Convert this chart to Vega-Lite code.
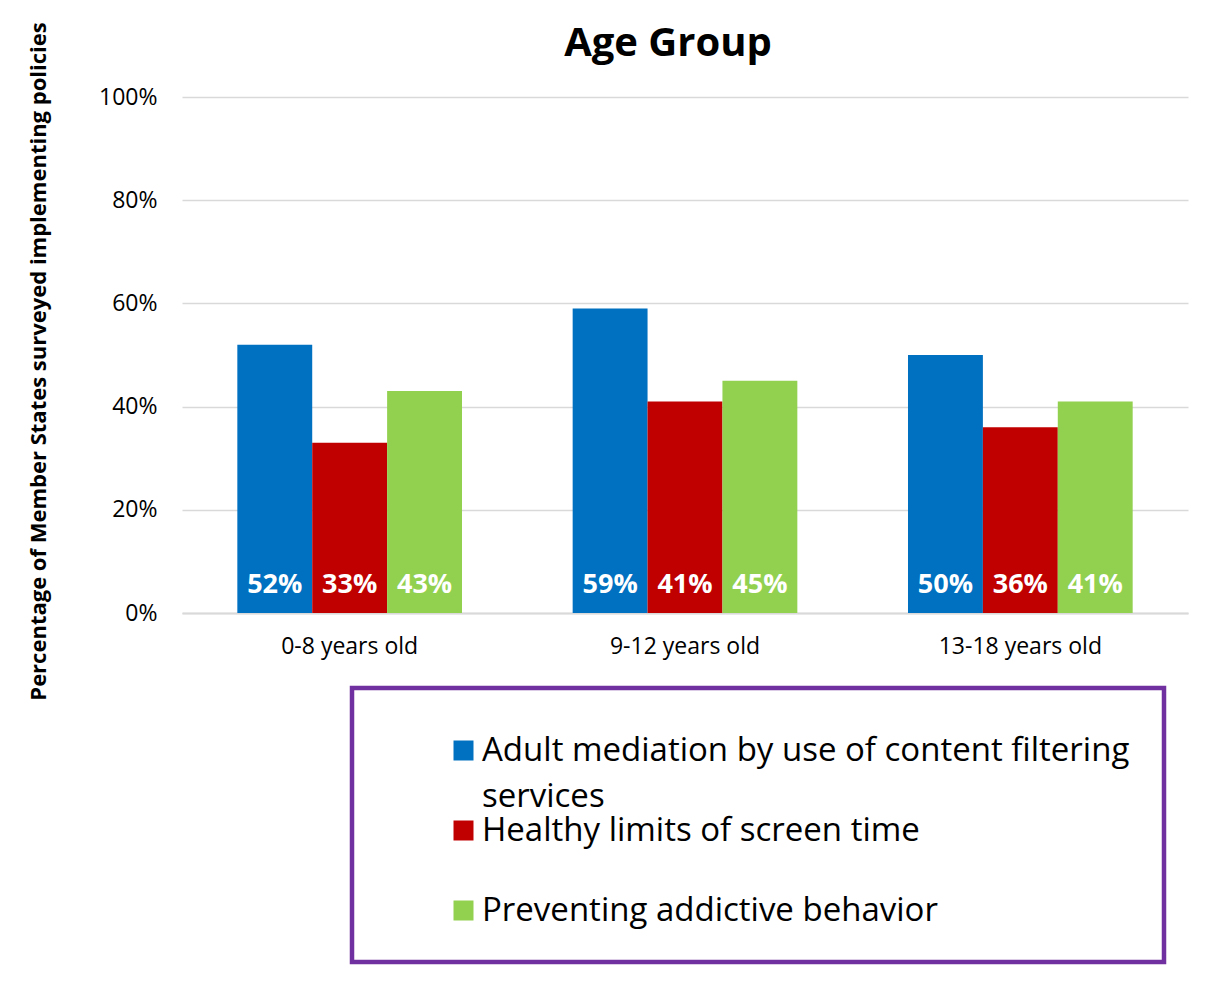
{
  "$schema": "https://vega.github.io/schema/vega-lite/v6.json",
  "autosize": "none",
  "width": 1006,
  "height": 516,
  "padding": {"left": 182, "top": 97, "right": 22, "bottom": 381},
  "background": "white",
  "config": {
    "font": "Open Sans",
    "view": {"stroke": null},
    "axis": {"labelFont": "Open Sans", "titleFont": "Open Sans"},
    "legend": {"labelFont": "Open Sans"}
  },
  "title": {
    "text": "Age Group",
    "fontSize": 40,
    "fontWeight": "bold",
    "color": "#000000",
    "anchor": "middle",
    "dx": -17,
    "offset": -42
  },
  "data": {
    "values": [
      {"age": "0-8 years old", "policy": "Adult mediation by use of content filtering services", "share": 0.52},
      {"age": "0-8 years old", "policy": "Healthy limits of screen time", "share": 0.33},
      {"age": "0-8 years old", "policy": "Preventing addictive behavior", "share": 0.43},
      {"age": "9-12 years old", "policy": "Adult mediation by use of content filtering services", "share": 0.59},
      {"age": "9-12 years old", "policy": "Healthy limits of screen time", "share": 0.41},
      {"age": "9-12 years old", "policy": "Preventing addictive behavior", "share": 0.45},
      {"age": "13-18 years old", "policy": "Adult mediation by use of content filtering services", "share": 0.50},
      {"age": "13-18 years old", "policy": "Healthy limits of screen time", "share": 0.36},
      {"age": "13-18 years old", "policy": "Preventing addictive behavior", "share": 0.41}
    ]
  },
  "encoding": {
    "x": {
      "field": "age",
      "type": "nominal",
      "sort": ["0-8 years old", "9-12 years old", "13-18 years old"],
      "scale": {"paddingInner": 0.33, "paddingOuter": 0.165},
      "axis": {
        "title": null,
        "labelAngle": 0,
        "labelFontSize": 23,
        "labelColor": "#000000",
        "labelPadding": 22,
        "ticks": false,
        "domainColor": "#d9d9d9",
        "domainWidth": 2
      }
    },
    "xOffset": {
      "field": "policy",
      "type": "nominal",
      "sort": [
        "Adult mediation by use of content filtering services",
        "Healthy limits of screen time",
        "Preventing addictive behavior"
      ],
      "scale": {"paddingInner": 0, "paddingOuter": 0}
    }
  },
  "layer": [
    {
      "mark": {"type": "bar"},
      "encoding": {
        "y": {
          "field": "share",
          "type": "quantitative",
          "scale": {"domain": [0, 1]},
          "axis": {
            "format": ".0%",
            "values": [0, 0.2, 0.4, 0.6, 0.8, 1],
            "labelFontSize": 23,
            "labelColor": "#000000",
            "labelPadding": 25,
            "ticks": false,
            "domain": false,
            "gridColor": "#d9d9d9",
            "gridWidth": 1.5,
            "title": "Percentage of Member States surveyed implementing policies",
            "titleFontSize": 22,
            "titleFontWeight": "bold",
            "titleColor": "#000000",
            "titleAngle": 270,
            "titleX": -144,
            "titleY": 264,
            "titleAlign": "center",
            "titleBaseline": "middle"
          }
        },
        "color": {
          "field": "policy",
          "type": "nominal",
          "scale": {
            "domain": [
              "Adult mediation by use of content filtering services",
              "Healthy limits of screen time",
              "Preventing addictive behavior"
            ],
            "range": ["#0070C0", "#C00000", "#92D050"]
          },
          "legend": {
            "title": " ",
            "titleFontSize": 1,
            "titlePadding": 11,
            "orient": "none",
            "legendX": 170,
            "legendY": 591,
            "direction": "vertical",
            "padding": 34,
            "symbolOffset": 61,
            "strokeColor": "#7030A0",
            "symbolType": "square",
            "symbolSize": 400,
            "symbolStrokeWidth": 0,
            "labelFontSize": 33,
            "labelColor": "#000000",
            "labelLimit": 900,
            "labelOffset": 2,
            "rowPadding": -8,
            "labelExpr": "datum.label == 'Adult mediation by use of content filtering services' ? ['Adult mediation by use of content filtering', 'services'] : datum.label == 'Healthy limits of screen time' ? [datum.label, ''] : datum.label",
            "encode": {
              "legend": {"update": {"strokeWidth": {"value": 4.5}}},
              "labels": {"update": {"lineHeight": {"value": 46}}}
            }
          }
        }
      }
    },
    {
      "mark": {
        "type": "text",
        "color": "white",
        "fontSize": 27,
        "fontWeight": "bold",
        "baseline": "middle",
        "dy": -28
      },
      "encoding": {
        "y": {"datum": 0, "type": "quantitative"},
        "text": {"field": "share", "type": "quantitative", "format": ".0%"}
      }
    }
  ]
}
